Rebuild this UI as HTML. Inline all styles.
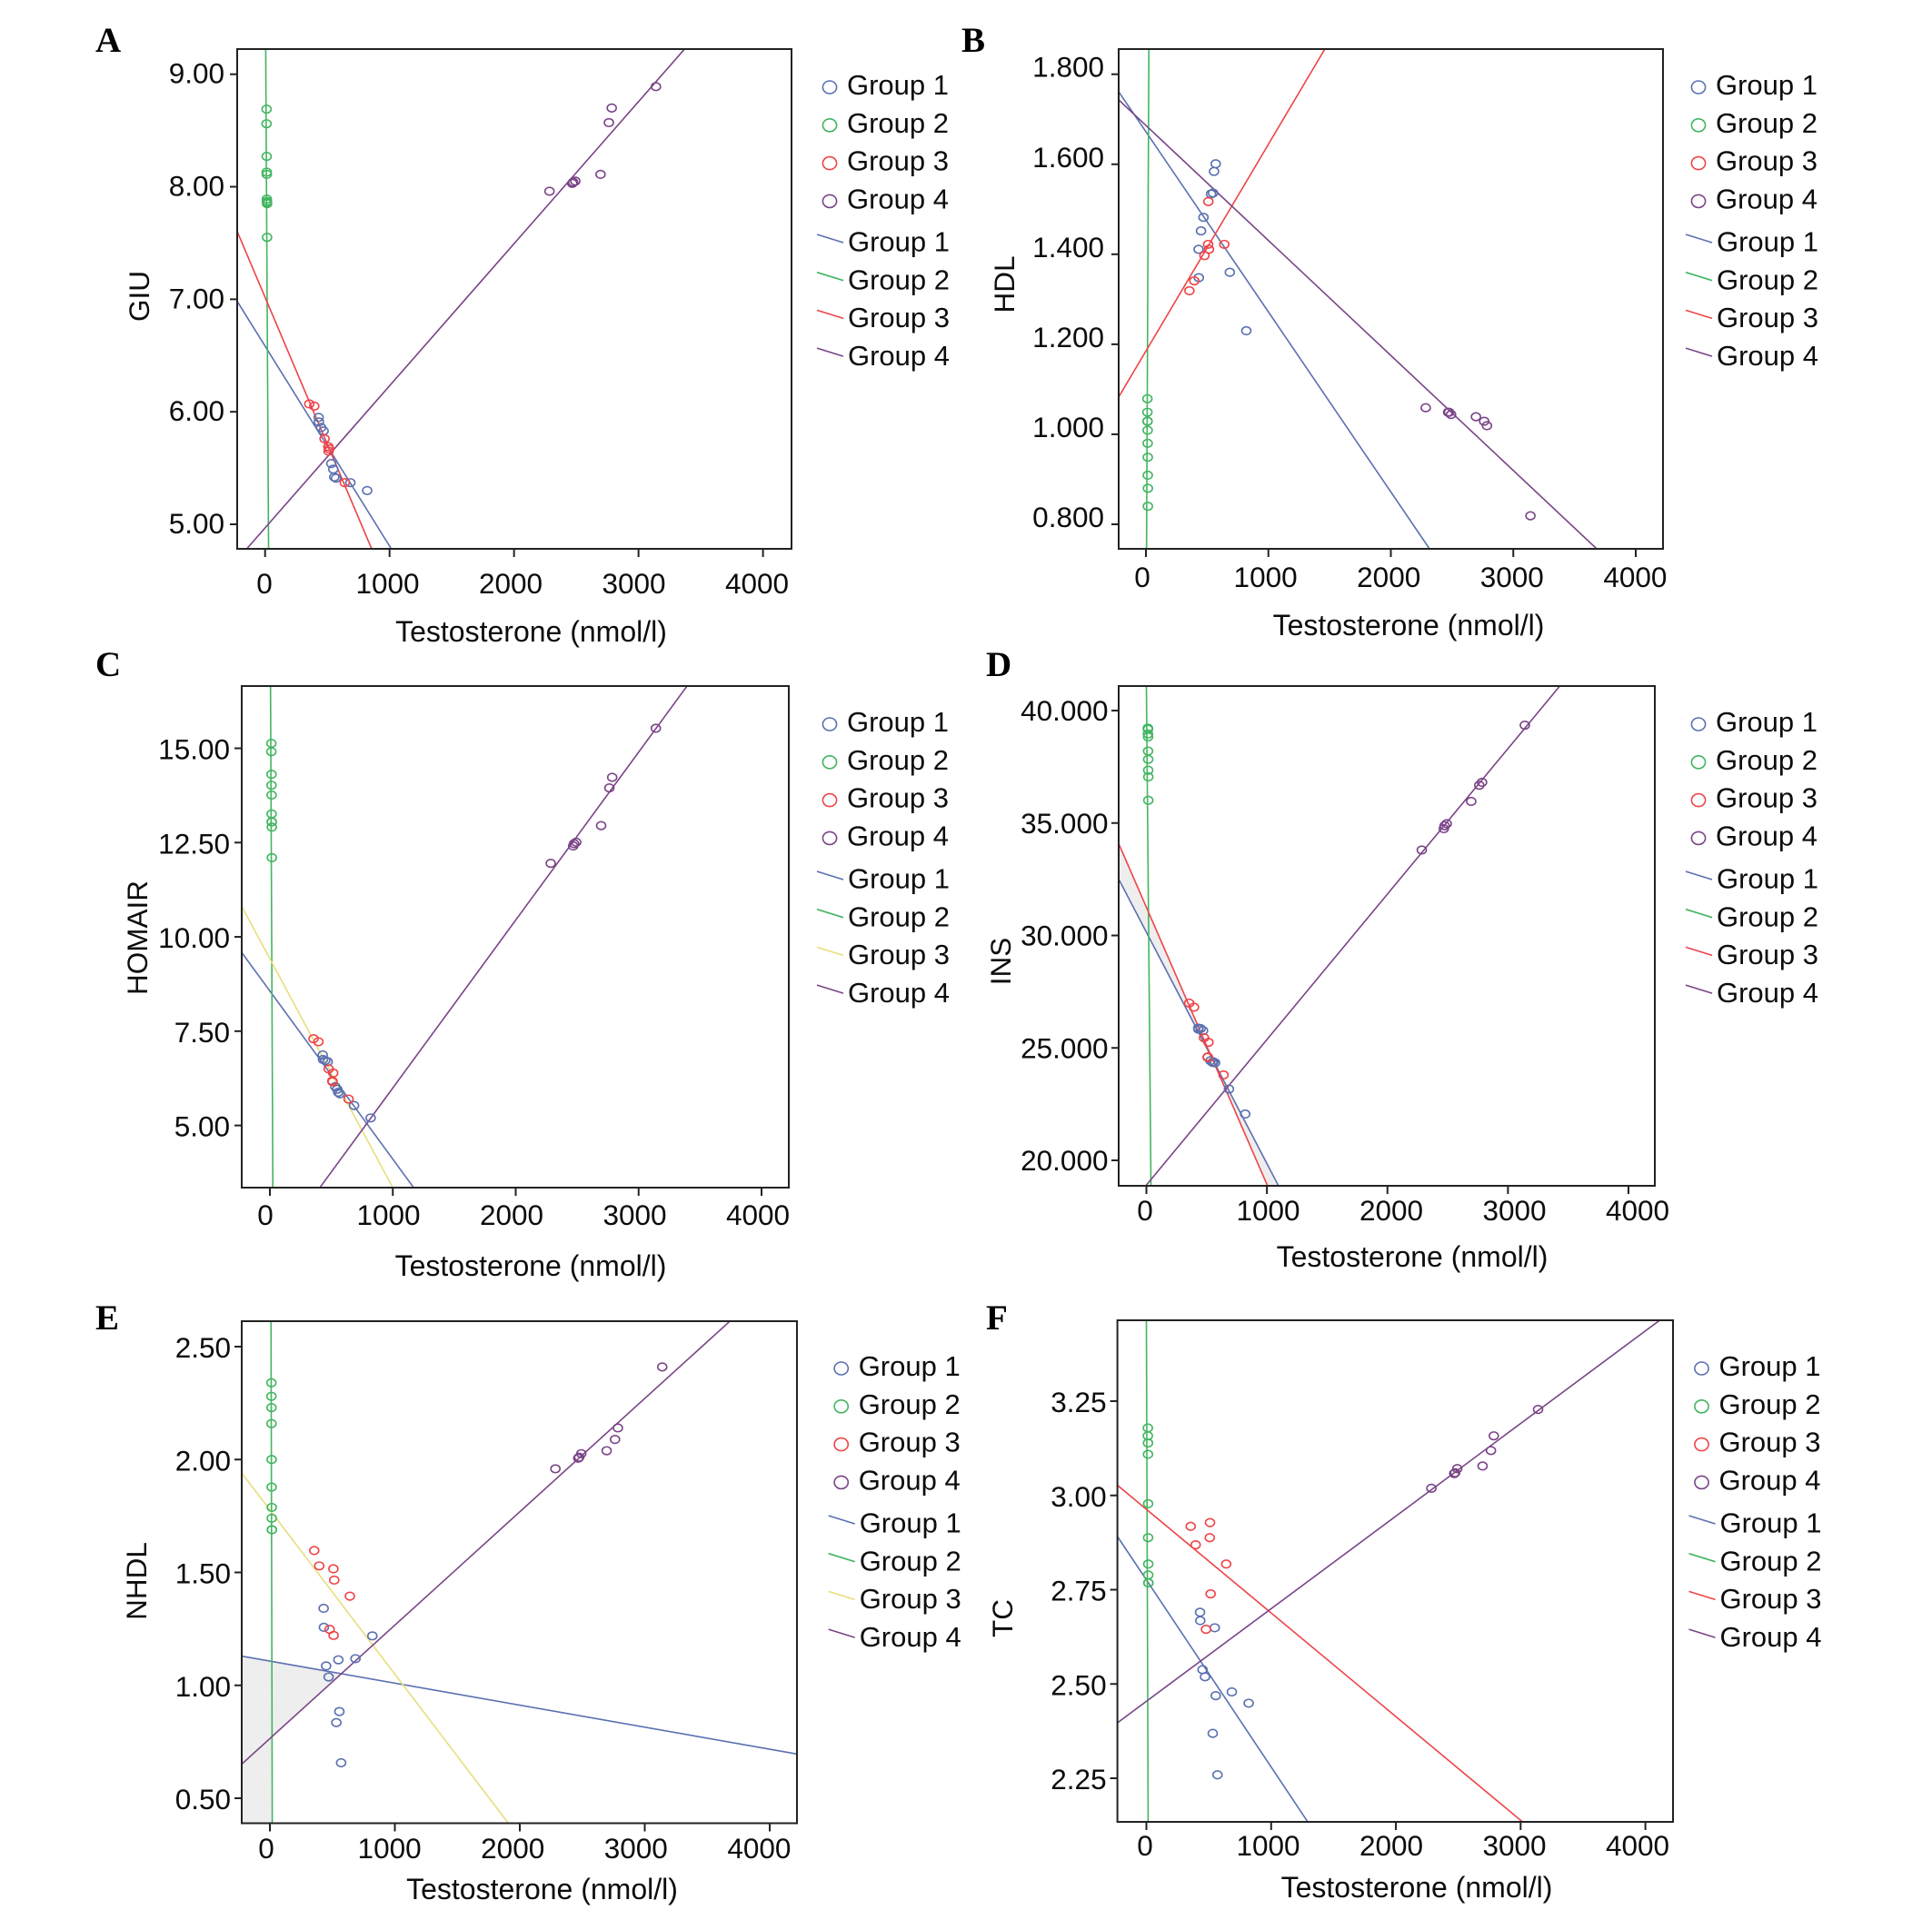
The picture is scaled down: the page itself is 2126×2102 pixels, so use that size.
<!DOCTYPE html>
<html lang="en">
<head>
<meta charset="utf-8">
<title>Testosterone regression panels</title>
<style>
html,body{margin:0;padding:0;background:#fff;}
svg{display:block;}
text{font-family:"Liberation Sans",sans-serif;fill:#0c0c0c;}
.letter{font-family:"Liberation Serif",serif;font-weight:bold;font-size:39px;fill:#000;}
</style>
</head>
<body>
<svg id="figure" xmlns="http://www.w3.org/2000/svg" width="2126" height="2102" viewBox="0 0 2126 2102"></svg>
<script>
// Testosterone (x) values per group, shared by all panels
const group1X = [430,432,450,470,532,548,556,570,685,820];
const group2X = [12,12,13,13,14,14,15,15,16,16];
const group3X = [355,395,478,508,510,515,640];
const group4X = [2285,2468,2475,2492,2695,2762,2785,3140];
const xTickValues = [0,1000,2000,3000,4000];
const legendLabels = ["Group 1","Group 2","Group 3","Group 4"];
const xAxisTitle = "Testosterone (nmol/l)";

// Panel A: GIU
const giuTicks = ["9.00","8.00","7.00","6.00","5.00"];
const giuG1 = [5.95,5.91,5.86,5.83,5.54,5.49,5.42,5.41,5.37,5.30];
const giuG2 = [8.69,8.56,8.27,8.13,8.11,7.89,7.87,7.86,7.85,7.55];
const giuG3 = [6.07,6.05,5.76,5.69,5.65,5.67,5.37];
const giuG4 = [7.96,8.03,8.04,8.05,8.11,8.57,8.70,8.89];
const giuLine1 = [-223,6.98,1015,4.78];
const giuLine2 = [5,9.22,28,4.78];
const giuLine3 = [-223,7.60,857,4.78];
const giuLine4 = [-149,4.78,3367,9.22];

// Panel B: HDL
const hdlTicks = ["1.800","1.600","1.400","1.200","1.000","0.800"];
const hdlG1 = [1.411,1.348,1.452,1.482,1.534,1.536,1.584,1.601,1.360,1.230];
const hdlG2 = [1.079,1.049,1.029,1.029,1.009,0.980,0.949,0.909,0.880,0.840];
const hdlG3 = [1.319,1.341,1.397,1.422,1.517,1.411,1.422];
const hdlG4 = [1.059,1.049,1.049,1.044,1.039,1.029,1.019,0.819];
const hdlLine1 = [-222,1.761,2317,0.745];
const hdlLine2 = [24,1.856,5,0.745];
const hdlLine3 = [-222,1.083,1461,1.856];
const hdlLine4 = [-222,1.743,3683,0.745];

// Panel C: HOMAIR
const homaTicks = ["15.00","12.50","10.00","7.50","5.00"];
const homaG1 = [6.87,6.75,6.72,6.69,6.03,5.96,5.88,5.84,5.53,5.20];
const homaG2 = [15.13,14.91,14.31,14.02,13.76,13.26,13.05,13.05,12.91,12.10];
const homaG3 = [7.30,7.22,6.50,6.18,6.16,6.39,5.70];
const homaG4 = [11.95,12.41,12.47,12.51,12.95,13.95,14.23,15.53];
const homaLine1 = [-226,9.57,1170,3.35];
const homaLine2 = [5,16.66,24,3.35];
const homaLine3 = [-226,10.79,1000,3.35];
const homaLine4 = [406,3.35,3396,16.66];

// Panel D: INS
const insTicks = ["40.000","35.000","30.000","25.000","20.000"];
const insG1 = [25.88,25.83,25.86,25.77,24.43,24.36,24.38,24.34,23.17,22.06];
const insG2 = [39.22,39.20,39.17,38.96,38.83,38.20,37.83,37.35,37.05,36.01];
const insG3 = [26.99,26.81,25.45,24.58,24.60,25.25,23.80];
const insG4 = [33.80,34.75,34.88,34.97,35.96,36.68,36.81,39.35];
const insLine1 = [-231,32.52,1096,18.87];
const insLine2 = [0,41.10,38,18.87];
const insLine3 = [-231,34.10,1005,18.87];
const insLine4 = [-5,18.87,3433,41.11];

// Panel E: NHDL
const nhdlTicks = ["2.50","2.00","1.50","1.00","0.50"];
const nhdlG1 = [1.341,1.257,1.086,1.037,0.835,1.113,0.884,0.657,1.118,1.219];
const nhdlG2 = [2.34,2.28,2.23,2.159,2.00,1.878,1.788,1.74,1.689,1.689];
const nhdlG3 = [1.597,1.529,1.248,1.516,1.221,1.466,1.395];
const nhdlG4 = [1.959,2.006,2.010,2.026,2.039,2.089,2.140,2.410];
const nhdlLine1 = [-222,1.129,4218,0.696];
const nhdlLine2 = [9,2.61,19,0.388];
const nhdlLine3 = [-222,1.938,1910,0.388];
const nhdlLine4 = [-222,0.653,3676,2.61];

// Panel F: TC
const tcTicks = ["3.25","3.00","2.75","2.50","2.25"];
const tcG1 = [2.690,2.668,2.538,2.519,2.369,2.649,2.469,2.259,2.479,2.449];
const tcG2 = [3.179,3.158,3.139,3.109,2.978,2.888,2.818,2.789,2.768,2.768];
const tcG3 = [2.918,2.869,2.645,2.888,2.928,2.739,2.818];
const tcG4 = [3.019,3.058,3.060,3.071,3.078,3.119,3.158,3.228];
const tcLine1 = [-232,2.891,1296,2.133];
const tcLine2 = [0,3.466,14,2.133];
const tcLine3 = [-232,3.027,3020,2.133];
const tcLine4 = [-232,2.397,4121,3.466];

const BLUE = "#5a70b0", GREEN = "#43b560", RED = "#ee4448", PURPLE = "#7a4487", YELLOW = "#e8de7c";

const panels = [
 {key:"a",letter:"A",letterX:105,letterY:57,title:"GIU",titleX:153,titleY:326,left:261,right:871,top:54,bottom:604,x0:291.7,x4000:839.6,yFirst:81.7,yLast:577,labelGap:14,labelDy:-1,xLabelStart:291,xLabelStep:135.5,xLabelY:653,xTitleX:584.5,xTitleY:706,legendX:913,legendDy:0,ticks:giuTicks,ys:[giuG1,giuG2,giuG3,giuG4],lines:[giuLine1,giuLine2,giuLine3,giuLine4],line3Color:RED,shade:null},
 {key:"b",letter:"B",letterX:1058,letterY:57,title:"HDL",titleX:1105,titleY:313,left:1231,right:1830,top:54,bottom:604,x0:1261,x4000:1800,yFirst:81.7,yLast:577,labelGap:16,labelDy:-8,xLabelStart:1257,xLabelStep:135.6,xLabelY:646,xTitleX:1550,xTitleY:699,legendX:1869,legendDy:0,ticks:hdlTicks,ys:[hdlG1,hdlG2,hdlG3,hdlG4],lines:[hdlLine1,hdlLine2,hdlLine3,hdlLine4],line3Color:RED,shade:null},
 {key:"c",letter:"C",letterX:105,letterY:744,title:"HOMAIR",titleX:151,titleY:1032,left:266,right:868,top:755,bottom:1307,x0:297,x4000:838,yFirst:823.5,yLast:1238.6,labelGap:13,labelDy:1,xLabelStart:292,xLabelStep:135.5,xLabelY:1348,xTitleX:584,xTitleY:1404,legendX:913,legendDy:701,ticks:homaTicks,ys:[homaG1,homaG2,homaG3,homaG4],lines:[homaLine1,homaLine2,homaLine3,homaLine4],line3Color:YELLOW,shade:null},
 {key:"d",letter:"D",letterX:1085,letterY:744,title:"INS",titleX:1101,titleY:1058,left:1231,right:1821,top:755,bottom:1305,x0:1261.5,x4000:1792,yFirst:782,yLast:1277,labelGap:11.5,labelDy:0,xLabelStart:1260,xLabelStep:135.5,xLabelY:1343,xTitleX:1554,xTitleY:1394,legendX:1869,legendDy:701,ticks:insTicks,ys:[insG1,insG2,insG3,insG4],lines:[insLine1,insLine2,insLine3,insLine4],line3Color:RED,shade:"band"},
 {key:"e",letter:"E",letterX:105,letterY:1463,title:"NHDL",titleX:150,titleY:1740,left:266,right:877,top:1454,bottom:2006.5,x0:297,x4000:847,yFirst:1482,yLast:1979,labelGap:12,labelDy:1,xLabelStart:293,xLabelStep:135.6,xLabelY:2045,xTitleX:596.5,xTitleY:2090,legendX:925.7,legendDy:1410,ticks:nhdlTicks,ys:[nhdlG1,nhdlG2,nhdlG3,nhdlG4],lines:[nhdlLine1,nhdlLine2,nhdlLine3,nhdlLine4],line3Color:YELLOW,shade:"corner"},
 {key:"f",letter:"F",letterX:1085,letterY:1463,title:"TC",titleX:1103,titleY:1781,left:1229.6,right:1841,top:1453,bottom:2005,x0:1261.5,x4000:1810.6,yFirst:1542,yLast:1957,labelGap:12,labelDy:1,xLabelStart:1260,xLabelStep:135.5,xLabelY:2042,xTitleX:1559,xTitleY:2088,legendX:1872.5,legendDy:1410,ticks:tcTicks,ys:[tcG1,tcG2,tcG3,tcG4],lines:[tcLine1,tcLine2,tcLine3,tcLine4],line3Color:RED,shade:null}
];

const NS = "http://www.w3.org/2000/svg";
const svg = document.getElementById("figure");

function make(parent, tag, attrs, text){
  const node = document.createElementNS(NS, tag);
  for (const k in attrs) node.setAttribute(k, attrs[k]);
  if (text !== undefined) node.textContent = text;
  parent.appendChild(node);
  return node;
}

function intersect(a, b){
  const ma = (a[3]-a[1])/(a[2]-a[0]);
  const mb = (b[3]-b[1])/(b[2]-b[0]);
  const x = (b[1]-a[1]+ma*a[0]-mb*b[0])/(ma-mb);
  return [x, a[1]+ma*(x-a[0])];
}

function drawPanel(p){
  const xs = [group1X, group2X, group3X, group4X];
  const firstTick = Number(p.ticks[0]);
  const lastTick = Number(p.ticks[p.ticks.length-1]);
  const sx = v => p.x0 + v*(p.x4000-p.x0)/4000;
  const sy = v => p.yFirst + (firstTick-v)*(p.yLast-p.yFirst)/(firstTick-lastTick);
  const colors = [BLUE, GREEN, p.line3Color, PURPLE];
  const markerColors = [BLUE, GREEN, RED, PURPLE];

  const g = make(svg, "g", {});
  
  

  const letter = make(g, "text", {x:p.letterX, y:p.letterY, class:"letter"}, p.letter);
  
  

  const clip = make(g, "clipPath", {id:"clip-"+p.key});
  make(clip, "rect", {x:p.left, y:p.top, width:p.right-p.left, height:p.bottom-p.top});
  const plot = make(g, "g", {"clip-path":"url(#clip-"+p.key+")"});
  
  

  if (p.shade === "band"){
    const a = p.lines[0], c = p.lines[2];
    const pts = [[a[0],a[1]],[c[0],c[1]],[c[2],c[3]],[a[2],a[3]]].map(q => sx(q[0])+","+sy(q[1])).join(" ");
    const band = make(plot, "polygon", {points:pts, fill:"#eeeeee"});
    
    
  }
  if (p.shade === "corner"){
    const l1 = p.lines[0], l2 = p.lines[1], l4 = p.lines[3];
    const i14 = intersect(l1, l4), i24 = intersect(l2, l4);
    const pts = [
      [sx(l1[0]), sy(l1[1])],
      [sx(i14[0]), sy(i14[1])],
      [sx(i24[0]), sy(i24[1])],
      [sx(i24[0]), p.bottom],
      [p.left, p.bottom]
    ].map(q => q[0]+","+q[1]).join(" ");
    const corner = make(plot, "polygon", {points:pts, fill:"#eeeeee"});
    
    
  }

  p.lines.forEach((l, i) => {
    const fit = make(plot, "line", {x1:sx(l[0]), y1:sy(l[1]), x2:sx(l[2]), y2:sy(l[3]), stroke:colors[i], "stroke-width":1.6});
    
    
  });

  p.ys.forEach((ys, i) => {
    ys.forEach((v, j) => {
      const pt = make(plot, "ellipse", {cx:sx(xs[i][j]), cy:sy(v), rx:5, ry:4.3, fill:"none", stroke:markerColors[i], "stroke-width":1.6});
      
      
    });
  });

  const frame = make(g, "rect", {x:p.left, y:p.top, width:p.right-p.left, height:p.bottom-p.top, fill:"none", stroke:"#222", "stroke-width":2});
  
  

  xTickValues.forEach((v, i) => {
    const tick = make(g, "line", {x1:sx(v), x2:sx(v), y1:p.bottom, y2:p.bottom+9, stroke:"#222", "stroke-width":2});
    
    
    const label = make(g, "text", {x:p.xLabelStart + i*p.xLabelStep, y:p.xLabelY, "text-anchor":"middle", "font-size":31.5}, String(v));
    
    
  });

  p.ticks.forEach(t => {
    const v = Number(t);
    const tick = make(g, "line", {x1:p.left-8, x2:p.left, y1:sy(v), y2:sy(v), stroke:"#222", "stroke-width":2});
    
    
    const label = make(g, "text", {x:p.left-p.labelGap, y:sy(v)+11+p.labelDy, "text-anchor":"end", "font-size":31.5}, t);
    
    
  });

  const xTitle = make(g, "text", {x:p.xTitleX, y:p.xTitleY, "text-anchor":"middle", "font-size":32}, xAxisTitle);
  
  

  const yTitle = make(g, "text", {x:p.titleX+11, y:p.titleY, "text-anchor":"middle", "font-size":31.5, transform:"rotate(-90 "+(p.titleX+11)+" "+p.titleY+")"}, p.title);
  
  

  const legend = make(g, "g", {});
  
  
  legendLabels.forEach((name, i) => {
    const baseA = 104 + 41.8*i + p.legendDy;
    const mark = make(legend, "ellipse", {cx:p.legendX, cy:baseA-8, rx:7.6, ry:7, fill:"none", stroke:markerColors[i], "stroke-width":1.6});
    
    
    const t1 = make(legend, "text", {x:p.legendX+19, y:baseA, "font-size":31}, name);
    
    
    const baseB = 276.7 + 41.7*i + p.legendDy;
    const seg = make(legend, "line", {x1:p.legendX-14, y1:baseB-18.7, x2:p.legendX+15, y2:baseB-9.7, stroke:colors[i], "stroke-width":1.6});
    
    
    const t2 = make(legend, "text", {x:p.legendX+20, y:baseB, "font-size":31}, name);
    
    
  });
}

panels.forEach(drawPanel);
</script>
</body>
</html>
